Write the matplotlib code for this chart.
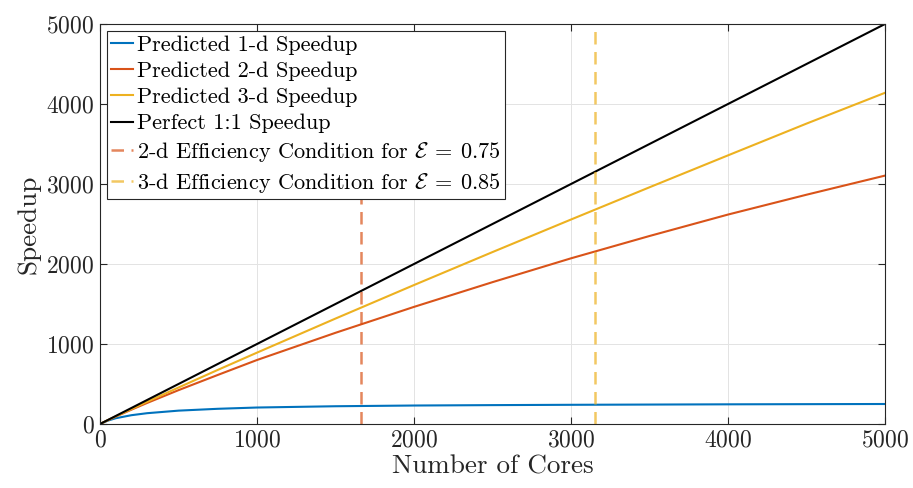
import numpy as np
import matplotlib.pyplot as plt

plt.rcParams["font.family"] = "serif"
plt.rcParams["font.serif"] = ["cmr10"]
plt.rcParams["mathtext.fontset"] = "cm"
plt.rcParams["axes.formatter.use_mathtext"] = True
plt.rcParams["axes.unicode_minus"] = False

# values
cores = [0, 50, 100, 200, 300, 500, 750, 1000, 1500, 2000, 2500, 3000, 3500, 4000, 4500, 5000]
speedup_1d = [0, 42, 72, 110, 135, 167, 190, 206, 222, 231, 236, 240, 243, 246, 248, 250]
speedup_2d = [0, 47, 92, 179, 263, 423, 613, 800, 1140, 1464, 1773, 2071, 2350, 2618, 2866, 3105]
speedup_3d = [0, 48, 95, 187, 278, 456, 676, 892, 1318, 1737, 2149, 2556, 2959, 3358, 3755, 4140]
perfect = [0, 5000]
cond_2d = 1660
cond_3d = 3150

blue = "#0072BD"
orange = "#D95319"
yellow = "#EDB120"
axcol = "#262626"

fig = plt.figure(figsize=(9.13, 4.88), dpi=100)
ax = fig.add_axes([100 / 913, 64 / 488, 785 / 913, 400 / 488])

ax.plot(cores, speedup_1d, color=blue, linewidth=1.5, label="Predicted 1-d Speedup")
ax.plot(cores, speedup_2d, color=orange, linewidth=1.5, label="Predicted 2-d Speedup")
ax.plot(cores, speedup_3d, color=yellow, linewidth=1.5, label="Predicted 3-d Speedup")
ax.plot(perfect, perfect, color="black", linewidth=1.5, label="Perfect 1:1 Speedup")
ax.axvline(cond_2d, color=orange, alpha=0.7, linewidth=1.8, linestyle=(0, (5, 3)),
           label=r"2-d Efficiency Condition for $\mathcal{E}\:=\:0.75$")
ax.axvline(cond_3d, color=yellow, alpha=0.7, linewidth=1.8, linestyle=(0, (5, 3)),
           label=r"3-d Efficiency Condition for $\mathcal{E}\:=\:0.85$")

ax.set_xlim(0, 5000)
ax.set_ylim(0, 5000)
ax.set_xticks([0, 1000, 2000, 3000, 4000, 5000])
ax.set_yticks([0, 1000, 2000, 3000, 4000, 5000])
ax.grid(True, color="#e3e3e3", linewidth=0.7)
ax.set_axisbelow(True)
ax.tick_params(direction="in", top=True, right=True, length=5, width=0.8,
               color=axcol, labelcolor=axcol, labelsize=17, pad=4)
for s in ax.spines.values():
    s.set_color(axcol)
    s.set_linewidth(0.8)

ax.set_xlabel("Number of Cores", fontsize=19.5, color=axcol, labelpad=2)
ax.set_ylabel("Speedup", fontsize=19.5, color=axcol, labelpad=4)

leg = ax.legend(loc="upper left", fontsize=16, fancybox=False, edgecolor=axcol,
                framealpha=1, handlelength=1.0, handletextpad=0.15,
                labelspacing=0.3, borderpad=0.2, borderaxespad=0.3)
leg.get_frame().set_linewidth(0.8)

fig.savefig("out.png", dpi=100)
